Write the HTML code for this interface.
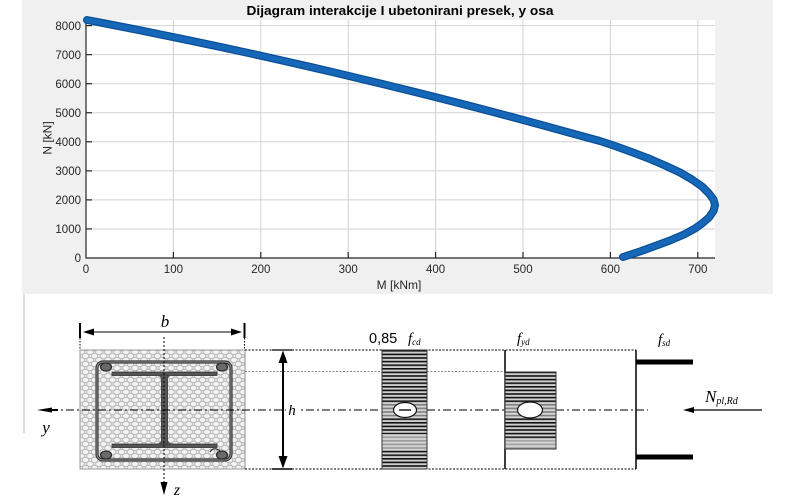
<!DOCTYPE html>
<html>
<head>
<meta charset="utf-8">
<style>
html,body{margin:0;padding:0;background:#fff;}
svg{display:block;}
</style>
</head>
<body>
<svg width="800" height="499" viewBox="0 0 800 499" xmlns="http://www.w3.org/2000/svg">
<defs>
  <pattern id="conc" x="0" y="0" width="9" height="8" patternUnits="userSpaceOnUse">
    <rect width="9" height="8" fill="#e2e2e2"/>
    <ellipse cx="4.5" cy="4" rx="3.3" ry="2.6" fill="#f2f2f2" stroke="#adadad" stroke-width="0.7"/>
    <ellipse cx="0" cy="0" rx="3.3" ry="2.6" fill="#f2f2f2" stroke="#adadad" stroke-width="0.7"/>
    <ellipse cx="9" cy="0" rx="3.3" ry="2.6" fill="#f2f2f2" stroke="#adadad" stroke-width="0.7"/>
    <ellipse cx="0" cy="8" rx="3.3" ry="2.6" fill="#f2f2f2" stroke="#adadad" stroke-width="0.7"/>
    <ellipse cx="9" cy="8" rx="3.3" ry="2.6" fill="#f2f2f2" stroke="#adadad" stroke-width="0.7"/>
  </pattern>
  <pattern id="hatch" x="0" y="350" width="10" height="3.6" patternUnits="userSpaceOnUse">
    <rect width="10" height="3.6" fill="#cfcfcf"/>
    <rect y="0" width="10" height="1.6" fill="#111"/>
  </pattern>
</defs>

<!-- figure background -->
<rect x="22" y="0" width="751" height="294" fill="#f0f0f0"/>
<!-- plot area -->
<rect x="86" y="20" width="629" height="238" fill="#ffffff"/>

<!-- grid -->
<g stroke="#d2d2d2" stroke-width="1">
  <line x1="173.4" y1="20" x2="173.4" y2="258"/>
  <line x1="260.8" y1="20" x2="260.8" y2="258"/>
  <line x1="348.2" y1="20" x2="348.2" y2="258"/>
  <line x1="435.6" y1="20" x2="435.6" y2="258"/>
  <line x1="523" y1="20" x2="523" y2="258"/>
  <line x1="610.4" y1="20" x2="610.4" y2="258"/>
  <line x1="697.8" y1="20" x2="697.8" y2="258"/>
  <line x1="86" y1="228.95" x2="715" y2="228.95"/>
  <line x1="86" y1="199.9" x2="715" y2="199.9"/>
  <line x1="86" y1="170.85" x2="715" y2="170.85"/>
  <line x1="86" y1="141.8" x2="715" y2="141.8"/>
  <line x1="86" y1="112.75" x2="715" y2="112.75"/>
  <line x1="86" y1="83.7" x2="715" y2="83.7"/>
  <line x1="86" y1="54.65" x2="715" y2="54.65"/>
  <line x1="86" y1="25.6" x2="715" y2="25.6"/>
</g>

<!-- axes -->
<g stroke="#262626" stroke-width="1.2">
  <line x1="86" y1="20" x2="86" y2="258.5"/>
  <line x1="85.5" y1="258" x2="715" y2="258"/>
  <line x1="173.4" y1="258" x2="173.4" y2="252"/>
  <line x1="260.8" y1="258" x2="260.8" y2="252"/>
  <line x1="348.2" y1="258" x2="348.2" y2="252"/>
  <line x1="435.6" y1="258" x2="435.6" y2="252"/>
  <line x1="523" y1="258" x2="523" y2="252"/>
  <line x1="610.4" y1="258" x2="610.4" y2="252"/>
  <line x1="697.8" y1="258" x2="697.8" y2="252"/>
  <line x1="86" y1="228.95" x2="92" y2="228.95"/>
  <line x1="86" y1="199.9" x2="92" y2="199.9"/>
  <line x1="86" y1="170.85" x2="92" y2="170.85"/>
  <line x1="86" y1="141.8" x2="92" y2="141.8"/>
  <line x1="86" y1="112.75" x2="92" y2="112.75"/>
  <line x1="86" y1="83.7" x2="92" y2="83.7"/>
  <line x1="86" y1="54.65" x2="92" y2="54.65"/>
  <line x1="86" y1="25.6" x2="92" y2="25.6"/>
</g>

<!-- tick labels -->
<g font-family="Liberation Sans, Arial, sans-serif" font-size="11.5" fill="#262626">
  <g text-anchor="end">
    <text x="81" y="262">0</text>
    <text x="81" y="233">1000</text>
    <text x="81" y="204">2000</text>
    <text x="81" y="175">3000</text>
    <text x="81" y="146">4000</text>
    <text x="81" y="117">5000</text>
    <text x="81" y="88">6000</text>
    <text x="81" y="59">7000</text>
    <text x="81" y="30">8000</text>
  </g>
  <g text-anchor="middle">
    <text x="86" y="273">0</text>
    <text x="173.4" y="273">100</text>
    <text x="260.8" y="273">200</text>
    <text x="348.2" y="273">300</text>
    <text x="435.6" y="273">400</text>
    <text x="523" y="273">500</text>
    <text x="610.4" y="273">600</text>
    <text x="697.8" y="273">700</text>
  </g>
  <text x="399" y="289" text-anchor="middle" font-size="12">M [kNm]</text>
  <text x="0" y="0" text-anchor="middle" font-size="12" transform="translate(51.5,138) rotate(-90)">N [kN]</text>
</g>

<!-- title -->
<text x="400" y="15" text-anchor="middle" font-family="Liberation Sans, Arial, sans-serif" font-weight="bold" font-size="12.5" fill="#000" textLength="307" lengthAdjust="spacingAndGlyphs">Dijagram interakcije I ubetonirani presek, y osa</text>

<!-- curve -->
<polyline fill="none" stroke="#0a4f96" stroke-width="8" stroke-linejoin="round" stroke-linecap="round"
 points="87,20 112,24.8 137,29.7 162,34.8 187,39.9 212,45.2 237,50.5 262,56 287,61.6 312,67.3 337,73.1 362,79.1 387,85.1 412,91.3 437,97.5 462,103.9 487,110.4 512,117 537,123.7 562,130.6 587,137.5 600,141 615,146 633,152.5 650,159 665,165.5 680,172.5 692,179.5 702,186.5 709,193.5 713.5,199.5 715,205 713.5,211 709,217.5 702,223.5 695,228.5 684,234.5 670,240.5 655,246 640,251.5 623,257"/>
<polyline fill="none" stroke="#1767b8" stroke-width="5.5" stroke-linejoin="round" stroke-linecap="round"
 points="87,20 112,24.8 137,29.7 162,34.8 187,39.9 212,45.2 237,50.5 262,56 287,61.6 312,67.3 337,73.1 362,79.1 387,85.1 412,91.3 437,97.5 462,103.9 487,110.4 512,117 537,123.7 562,130.6 587,137.5 600,141 615,146 633,152.5 650,159 665,165.5 680,172.5 692,179.5 702,186.5 709,193.5 713.5,199.5 715,205 713.5,211 709,217.5 702,223.5 695,228.5 684,234.5 670,240.5 655,246 640,251.5 623,257"/>

<!-- ===== bottom drawing ===== -->
<line x1="24" y1="294" x2="24" y2="433" stroke="#d4d4d4" stroke-width="1.5"/>

<!-- concrete section -->
<rect x="80" y="350" width="165" height="119" fill="url(#conc)" stroke="#9a9a9a" stroke-width="1"/>
<!-- stirrup -->
<rect x="97" y="362" width="134" height="98" rx="6" ry="6" fill="none" stroke="#3a3a3a" stroke-width="3.2"/>
<rect x="97" y="362" width="134" height="98" rx="6" ry="6" fill="none" stroke="#8a8a8a" stroke-width="1"/>
<!-- bars -->
<g fill="#6a6a6a" stroke="#2a2a2a" stroke-width="1.2">
  <ellipse cx="106" cy="367" rx="5.5" ry="4"/>
  <ellipse cx="222" cy="367" rx="5.5" ry="4"/>
  <ellipse cx="106" cy="455" rx="5.5" ry="4"/>
  <ellipse cx="222" cy="455" rx="5.5" ry="4"/>
</g>
<path d="M210 452 Q214 446 220 451" fill="none" stroke="#333" stroke-width="1.2"/>
<!-- I-beam -->
<g fill="#555" stroke="#333" stroke-width="0.8">
  <rect x="112" y="372" width="105" height="3.5"/>
  <rect x="112" y="444" width="105" height="3.5"/>
  <rect x="161.5" y="375" width="6" height="69"/>
</g>
<path d="M157 375.5 Q161.5 376 161.5 381 L161.5 375.5 Z M172 375.5 Q167.5 376 167.5 381 L167.5 375.5 Z M157 443.5 Q161.5 443 161.5 438 L161.5 443.5 Z M172 443.5 Q167.5 443 167.5 438 L167.5 443.5 Z" fill="#555"/>

<!-- b dimension -->
<g stroke="#000">
  <line x1="80" y1="323" x2="80" y2="338" stroke-width="2"/>
  <line x1="244.5" y1="323" x2="244.5" y2="338" stroke-width="2"/>
  <line x1="92" y1="332" x2="233" y2="332" stroke-width="1"/>
  <line x1="80" y1="338" x2="80" y2="350" stroke-width="1" stroke-dasharray="1.5,1.5"/>
  <line x1="244.5" y1="338" x2="244.5" y2="350" stroke-width="1" stroke-dasharray="1.5,1.5"/>
</g>
<polygon points="83,332 94,328.5 94,335.5" fill="#000"/>
<polygon points="242,332 231,328.5 231,335.5" fill="#000"/>
<text x="165" y="327" text-anchor="middle" font-family="Liberation Serif, serif" font-style="italic" font-size="17" fill="#000">b</text>

<!-- z axis -->
<line x1="164" y1="337" x2="164" y2="484" stroke="#000" stroke-width="1" stroke-dasharray="2,2"/>
<polygon points="164,495 160.5,482 167.5,482" fill="#000"/>
<text x="177" y="495" text-anchor="middle" font-family="Liberation Serif, serif" font-style="italic" font-size="16" fill="#000">z</text>

<!-- y axis dash-dot -->
<line x1="50" y1="410" x2="380" y2="410" stroke="#000" stroke-width="1" stroke-dasharray="8,3,2,3"/>
<line x1="427" y1="410" x2="505" y2="410" stroke="#000" stroke-width="1" stroke-dasharray="8,3,2,3"/>
<line x1="556" y1="410" x2="648" y2="410" stroke="#000" stroke-width="1" stroke-dasharray="8,3,2,3"/>
<polygon points="37,410 52,407.5 52,412.5" fill="#000"/>
<line x1="45" y1="410" x2="58" y2="410" stroke="#000" stroke-width="2"/>
<text x="46" y="433" text-anchor="middle" font-family="Liberation Serif, serif" font-style="italic" font-size="17" fill="#000">y</text>

<!-- extension lines -->
<g stroke="#000" stroke-width="1" stroke-dasharray="2,1.5">
  <line x1="245" y1="350" x2="272" y2="350"/>
  <line x1="292" y1="350" x2="636" y2="350"/>
  <line x1="245" y1="469" x2="272" y2="469"/>
  <line x1="292" y1="469" x2="636" y2="469"/>
</g>
<line x1="245" y1="371.5" x2="505" y2="371.5" stroke="#888" stroke-width="1" stroke-dasharray="2,1.5"/>
<line x1="272" y1="350" x2="292" y2="350" stroke="#000" stroke-width="1.2"/>
<line x1="272" y1="469" x2="292" y2="469" stroke="#000" stroke-width="1.5"/>

<!-- h dimension -->
<line x1="283" y1="360" x2="283" y2="459" stroke="#000" stroke-width="2"/>
<polygon points="283,350.5 278.5,363 287.5,363" fill="#000"/>
<polygon points="283,468.5 278.5,456 287.5,456" fill="#000"/>
<rect x="286" y="403" width="12" height="14" fill="#fff"/>
<text x="292" y="415" text-anchor="middle" font-family="Liberation Serif, serif" font-style="italic" font-size="15" fill="#000">h</text>

<!-- 0,85 fcd block -->
<rect x="382" y="350" width="45" height="119" fill="url(#hatch)"/>
<rect x="382" y="403.5" width="45" height="14" fill="#d9d9d9" opacity="0.55"/>
<rect x="382" y="434" width="45" height="16" fill="#d4d4d4" opacity="0.7"/>
<rect x="382" y="350" width="45" height="119" fill="none" stroke="#333" stroke-width="1"/>
<ellipse cx="405" cy="410" rx="11.5" ry="7.5" fill="#fff" stroke="#111" stroke-width="1.2"/>
<line x1="399" y1="410" x2="411" y2="410" stroke="#555" stroke-width="2"/>

<!-- fyd block -->
<line x1="505" y1="350" x2="505" y2="469" stroke="#000" stroke-width="1.5"/>
<rect x="505" y="372" width="51" height="77" fill="url(#hatch)"/>
<rect x="505" y="403.5" width="51" height="14" fill="#d9d9d9" opacity="0.55"/>
<rect x="505" y="440" width="51" height="9" fill="#d4d4d4" opacity="0.75"/>
<rect x="505" y="372" width="51" height="77" fill="none" stroke="#333" stroke-width="1"/>
<ellipse cx="530" cy="410" rx="12.5" ry="8" fill="#fff" stroke="#111" stroke-width="1.2"/>

<!-- fsd -->
<line x1="636" y1="350" x2="636" y2="469" stroke="#000" stroke-width="1.5"/>
<rect x="636" y="359.5" width="57" height="5" fill="#000"/>
<rect x="636" y="454.5" width="57" height="5" fill="#000"/>

<!-- N arrow -->
<line x1="690" y1="410" x2="762" y2="410" stroke="#000" stroke-width="1.2"/>
<polygon points="683,410 694,407 694,413" fill="#000"/>

<!-- labels -->
<text x="369" y="343" font-family="Liberation Sans, Arial, sans-serif" font-size="14.5" fill="#000">0,85</text>
<text x="408" y="343" font-family="Liberation Serif, serif" font-style="italic" font-size="15" fill="#000">f<tspan font-size="9" dy="2">cd</tspan></text>
<text x="517" y="343" font-family="Liberation Serif, serif" font-style="italic" font-size="15" fill="#000">f<tspan font-size="9" dy="2">yd</tspan></text>
<text x="658" y="344" font-family="Liberation Serif, serif" font-style="italic" font-size="15" fill="#000">f<tspan font-size="9" dy="2">sd</tspan></text>
<text x="705" y="402" font-family="Liberation Serif, serif" font-style="italic" font-size="17" fill="#000">N<tspan font-size="10" dy="2">pl,Rd</tspan></text>
</svg>
</body>
</html>
